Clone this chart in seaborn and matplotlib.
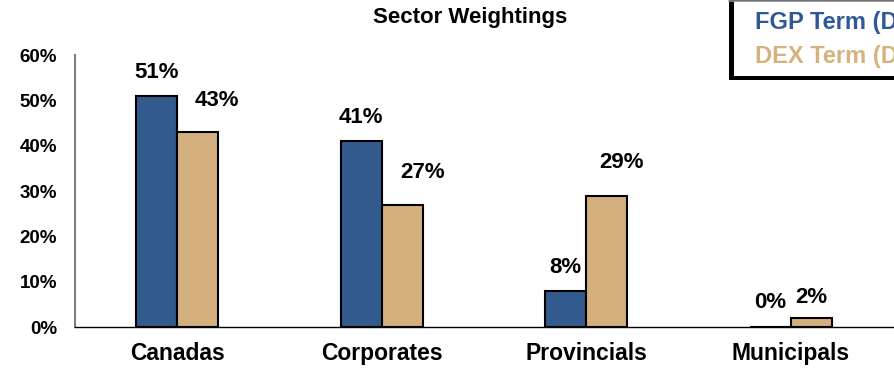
import matplotlib
matplotlib.use("Agg")
import matplotlib.pyplot as plt
from matplotlib.patches import Rectangle
from matplotlib.lines import Line2D
from matplotlib.ticker import FixedLocator, PercentFormatter
import seaborn as sns
import pandas as pd

# Sector weightings of the fund versus the index
sectors = ["Canadas", "Corporates", "Provincials", "Municipals"]
series_names = ["FGP Term (Duration)", "DEX Term (Duration)"]
fgp_weights = [51, 41, 8, 0]
dex_weights = [43, 27, 29, 2]

bar_colors = ["#335A8C", "#D4B07E"]
legend_text_colors = ["#2F5996", "#D6B27E"]

df = pd.DataFrame({
    "sector": sectors * 2,
    "weight": fgp_weights + dex_weights,
    "series": [series_names[0]] * len(sectors) + [series_names[1]] * len(sectors),
})

sns.set_theme(style="white")
plt.rcParams["font.family"] = ["Liberation Sans", "DejaVu Sans"]
plt.rcParams["font.weight"] = "bold"

fig = plt.figure(figsize=(8.95, 3.68), dpi=100)
ax = fig.add_axes([75 / 895, 1 - 327 / 368, 818 / 895, 272 / 368])

sns.barplot(data=df, x="sector", y="weight", hue="series", order=sectors,
            hue_order=series_names, palette=bar_colors, width=0.4,
            edgecolor="black", linewidth=1.5, saturation=1, ax=ax,
            legend=False)

ax.set_xlim(-0.5, 3.5)
ax.set_ylim(0, 60)
ax.yaxis.set_major_locator(FixedLocator([0, 10, 20, 30, 40, 50, 60]))
ax.yaxis.set_major_formatter(PercentFormatter(decimals=0))
ax.set_xlabel("")
ax.set_ylabel("")

for side in ("top", "right"):
    ax.spines[side].set_visible(False)
ax.spines["left"].set_color("#808080")
ax.spines["left"].set_linewidth(1.5)
ax.spines["bottom"].set_color("black")
ax.spines["bottom"].set_linewidth(1.0)

ax.tick_params(axis="y", which="major", direction="out", length=6, width=1.5,
               color="#808080", labelsize=13.5, pad=7)
ax.tick_params(axis="x", which="major", length=0, labelsize=16.5, pad=11)
ax.xaxis.set_minor_locator(FixedLocator([0.5, 1.5, 2.5, 3.5]))
ax.tick_params(axis="x", which="minor", direction="out", length=6, width=1,
               color="#808080")
for lbl in ax.get_xticklabels() + ax.get_yticklabels():
    lbl.set_fontweight("bold")
    lbl.set_color("black")

# value labels: (dx, dy) offsets in points per series
label_offsets = [
    [(0, 17), (0, 17), (0, 17), (0, 18)],
    [(14, 23), (15, 23), (11, 24), (0, 15)],
]
for container, values, offsets in zip(ax.containers,
                                      [fgp_weights, dex_weights],
                                      label_offsets):
    for bar, val, (dx, dy) in zip(container.patches, values, offsets):
        ax.annotate(f"{val}%", (bar.get_x() + bar.get_width() / 2, bar.get_height()),
                    xytext=(dx, dy), textcoords="offset points",
                    ha="center", va="center", fontsize=16, fontweight="bold",
                    color="black", annotation_clip=False)

fig.text(470 / 895, 1 - 17 / 368, "Sector Weightings", ha="center", va="center",
         fontsize=16, fontweight="bold", color="black")

# text legend box, running off the right edge
fig.patches.append(Rectangle((729 / 895, 1 - 80 / 368), 200 / 895, 90 / 368,
                             transform=fig.transFigure, facecolor="black",
                             edgecolor="none", zorder=1))
fig.patches.append(Rectangle((734 / 895, 1 - 76 / 368), 200 / 895, 75 / 368,
                             transform=fig.transFigure, facecolor="white",
                             edgecolor="none", zorder=2))
fig.lines.append(Line2D([729 / 895, 1], [1 - 1 / 368, 1 - 1 / 368],
                        transform=fig.transFigure, color="#8a8a8a",
                        linewidth=1.2, zorder=3))
for i, (name, col) in enumerate(zip(series_names, legend_text_colors)):
    fig.text(755 / 895, 1 - (22 + 35 * i) / 368, name, ha="left", va="center",
             fontsize=17, fontweight="bold", color=col, zorder=3)

fig.savefig("out.png", dpi=100)
